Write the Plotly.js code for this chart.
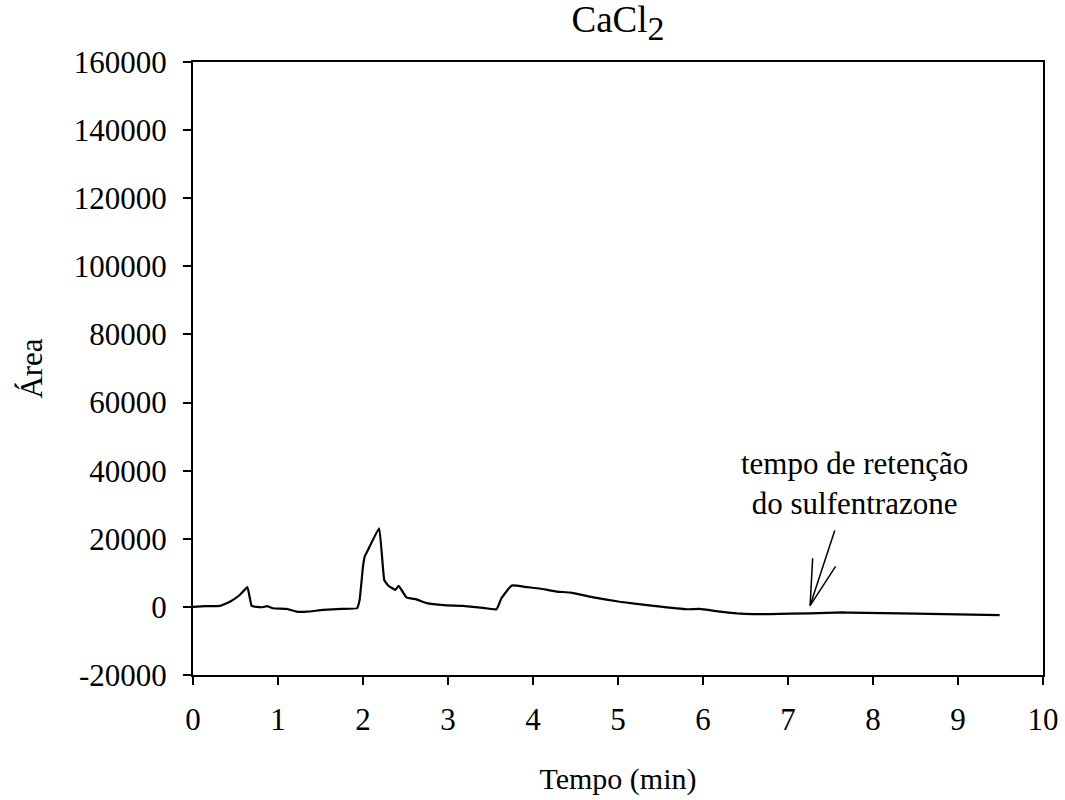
<!DOCTYPE html>
<html>
<head>
<meta charset="utf-8">
<script src="https://cdn.plot.ly/plotly-3.0.1.min.js"></script>
<style>html,body{margin:0;padding:0;background:#fff;}#chart{width:1065px;height:800px;}</style>
</head>
<body>
<div id="chart"></div>
<script>
var tempo = [0, 0.15, 0.32, 0.44, 0.55, 0.64, 0.69, 0.75, 0.82, 0.87, 0.94, 1.1, 1.22, 1.34, 1.53, 1.75, 1.93, 1.96, 2.0, 2.02, 2.06, 2.19, 2.25, 2.30, 2.38, 2.42, 2.51, 2.63, 2.75, 2.95, 3.18, 3.38, 3.57, 3.63, 3.75, 3.93, 4.08, 4.28, 4.44, 4.71, 5.02, 5.42, 5.81, 5.96, 6.2, 6.4, 6.59, 6.79, 7.26, 7.65, 7.73, 8.5, 9.49];
var area = [0, 200, 300, 1600, 3500, 5800, 300, 0, -100, 200, -400, -600, -1400, -1400, -900, -600, -400, 2000, 11900, 14800, 16800, 23100, 7900, 6200, 5000, 6200, 2800, 2200, 1100, 500, 300, -200, -700, 2600, 6300, 5800, 5400, 4500, 4200, 2800, 1500, 300, -700, -600, -1400, -1900, -2100, -2100, -1900, -1600, -1700, -2000, -2400];

var xTicks = [0,1,2,3,4,5,6,7,8,9,10];
var yTicks = [-20000,0,20000,40000,60000,80000,100000,120000,140000,160000];

// arrow segments (data coords): [x0,y0,x1,y1]
var arrowSegs = [
  [7.55, 22400, 7.26, 380],
  [7.29, 14300, 7.26, 380],
  [7.56, 11900, 7.26, 380]
];

var F = "Liberation Serif, Times New Roman, serif";

var shapes = arrowSegs.map(function(s){
  return {type:'line', xref:'x', yref:'y', x0:s[0], y0:s[1], x1:s[2], y1:s[3], line:{color:'#000', width:1.5}};
});

var trace = {x: tempo, y: area, mode:'lines', line:{color:'#000', width:2.2, shape:'spline', smoothing:0.3}, hoverinfo:'skip'};

var layout = {
  width:1065, height:800,
  margin:{l:193, r:22, t:62, b:125},
  paper_bgcolor:'#fff', plot_bgcolor:'#fff',
  showlegend:false,
  font:{family:F, color:'#000', size:31},
  title:{text:'CaCl<sub><span style="font-size:34px">2</span></sub>', font:{family:F, size:37, color:'#000'}, x:0.5, xanchor:'center', xref:'paper', y:0.992, yanchor:'top'},
  xaxis:{range:[0,10], tickvals:xTicks, ticktext:xTicks.map(String), showgrid:false, zeroline:false,
    showline:true, mirror:true, linecolor:'#000', linewidth:2, ticks:'outside', ticklen:8, tickwidth:2, tickcolor:'#000',
    tickfont:{family:F, size:31, color:'#000'}, ticklabelstandoff:8,
    title:{text:'Tempo (min)', font:{family:F, size:30, color:'#000'}, standoff:32}},
  yaxis:{range:[-20000,160000], tickvals:yTicks, ticktext:yTicks.map(String), showgrid:false, zeroline:false,
    showline:true, mirror:true, linecolor:'#000', linewidth:2, ticks:'outside', ticklen:8, tickwidth:2, tickcolor:'#000',
    tickfont:{family:F, size:31, color:'#000'}, ticklabelstandoff:10,
    title:{text:'Área', font:{family:F, size:31, color:'#000'}, standoff:22}},
  shapes: shapes,
  annotations:[
    {text:'tempo de retenção<br>do sulfentrazone', x:7.78, y:36200, xref:'x', yref:'y', showarrow:false,
     font:{family:F, size:31, color:'#000'}, align:'center', xanchor:'center', yanchor:'middle'}
  ]
};

Plotly.newPlot('chart', [trace], layout, {displayModeBar:false, staticPlot:true});
</script>
</body>
</html>
